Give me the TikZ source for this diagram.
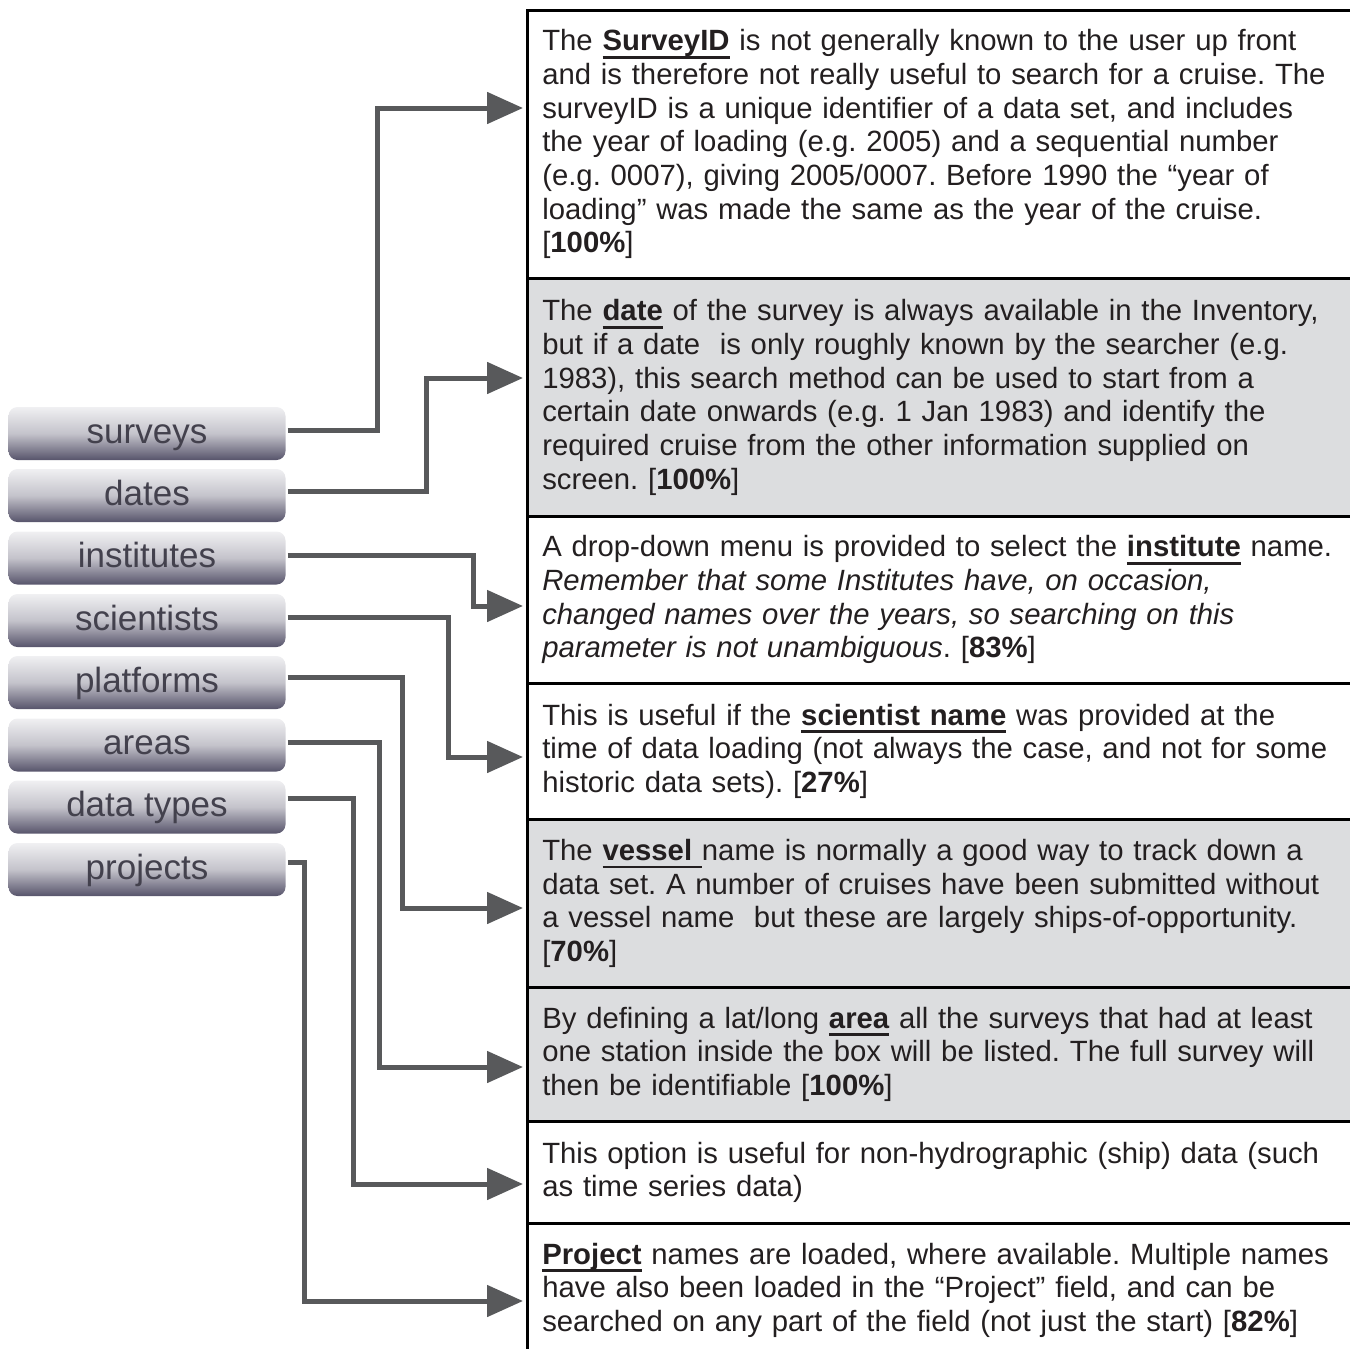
\documentclass[tikz,border=0pt]{standalone}
\usepackage{fontspec}
\setmainfont{Liberation Sans}
\usetikzlibrary{arrows.meta}
\definecolor{connc}{HTML}{58595B}
\definecolor{rowgray}{HTML}{DCDDDF}
\definecolor{textc}{HTML}{231F20}
\definecolor{btop}{HTML}{F0F0F2}
\definecolor{bmid}{HTML}{C4C3CB}
\definecolor{bbot}{HTML}{57546B}
\definecolor{btext}{HTML}{43414D}
\newcommand\ubf[1]{\leavevmode\setbox0=\hbox{\bfseries #1}\rlap{\rule[-8pt]{\wd0}{2.8pt}}\box0\relax}
\newcommand\bodyfont{\fontsize{29.3}{33.7}\selectfont}
\newcommand\btnfont{\fontsize{35}{40}\selectfont}
\frenchspacing
\begin{document}
\begin{tikzpicture}[x=1pt,y=-1pt,
  rowbox/.style={draw=black, line width=2.6pt, anchor=north west, inner xsep=15pt, inner ysep=0pt, text width=840pt, align=left, font=\bodyfont, text=textc},
  button/.style={rounded corners=9pt, minimum width=277pt, minimum height=53pt, top color=btop, bottom color=bbot, middle color=bmid, font=\btnfont, text=btext, inner sep=0pt, text height=26pt, text depth=7pt},
  conn/.style={draw=connc, line width=5pt, -{Triangle[length=36pt,width=31pt]}, shorten >=3pt}]
\useasboundingbox (0,0) rectangle (1350,1349);

% rows
\node[rowbox, minimum height=268pt] (r1) at (526,9) {The \ubf{SurveyID} is not generally known to the user up front\\
and is therefore not really useful to search for a cruise. The\\
surveyID is a unique identifier of a data set, and includes\\
the year of loading (e.g. 2005) and a sequential number\\
(e.g. 0007), giving 2005/0007. Before 1990 the “year of\\
loading” was made the same as the year of the cruise.\\
{[}\textbf{100\%}]};
\node[rowbox, fill=rowgray, minimum height=238pt] (r2) at (526,277) {The \ubf{date} of the survey is always available in the Inventory,\\
but if a date\ \ is only roughly known by the searcher (e.g.\\
1983), this search method can be used to start from a\\
certain date onwards (e.g. 1 Jan 1983) and identify the\\
required cruise from the other information supplied on\\
screen. [\textbf{100\%}]};
\node[rowbox, minimum height=167pt] (r3) at (526,515) {A drop-down menu is provided to select the \ubf{institute} name.\\
\textit{Remember that some Institutes have, on occasion,}\\
\textit{changed names over the years, so searching on this}\\
\textit{parameter is not unambiguous}. [\textbf{83\%}]};
\node[rowbox, minimum height=136pt] (r4) at (526,682) {This is useful if the \ubf{scientist name} was provided at the\\
time of data loading (not always the case, and not for some\\
historic data sets). [\textbf{27\%}]};
\node[rowbox, fill=rowgray, minimum height=168pt] (r5) at (526,818) {The \ubf{vessel\ }name is normally a good way to track down a\\
data set. A number of cruises have been submitted without\\
a vessel name\ \ but these are largely ships-of-opportunity.\\
{[}\textbf{70\%}]};
\node[rowbox, fill=rowgray, minimum height=134pt] (r6) at (526,986) {By defining a lat/long \ubf{area} all the surveys that had at least\\
one station inside the box will be listed. The full survey will\\
then be identifiable [\textbf{100\%}]};
\node[rowbox, minimum height=102pt] (r7) at (526,1120) {This option is useful for non-hydrographic (ship) data (such\\
as time series data)};
\node[rowbox, minimum height=134pt] (r8) at (526,1222) {\ubf{Project} names are loaded, where available. Multiple names\\
have also been loaded in the “Project” field, and can be\\
searched on any part of the field (not just the start) [\textbf{82\%}]};

% buttons
\node[button] (b1) at (147,433.5) {surveys};
\node[button] (b2) at (147,495.5) {dates};
\node[button] (b3) at (147,558) {institutes};
\node[button] (b4) at (147,620.5) {scientists};
\node[button] (b5) at (147,682.5) {platforms};
\node[button] (b6) at (147,745) {areas};
\node[button] (b7) at (147,807) {data types};
\node[button] (b8) at (147,869.5) {projects};

% corners
\coordinate (k1) at (377,108);
\coordinate (k2) at (426,378);
\coordinate (k3) at (473,606);
\coordinate (k4) at (448,757);
\coordinate (k5) at (402,908);
\coordinate (k6) at (379,1067);
\coordinate (k7) at (353,1184);
\coordinate (k8) at (304,1301);

\draw[conn] ([xshift=2pt,yshift=3.5pt]b1.east) -| (k1) -- (k1 -| r1.west);
\draw[conn] ([xshift=2pt,yshift=4.5pt]b2.east) -| (k2) -- (k2 -| r2.west);
\draw[conn] ([xshift=2pt,yshift=2.5pt]b3.east) -| (k3) -- (k3 -| r3.west);
\draw[conn] ([xshift=2pt,yshift=3.5pt]b4.east) -| (k4) -- (k4 -| r4.west);
\draw[conn] ([xshift=2pt,yshift=5.5pt]b5.east) -| (k5) -- (k5 -| r5.west);
\draw[conn] ([xshift=2pt,yshift=3pt]b6.east) -| (k6) -- (k6 -| r6.west);
\draw[conn] ([xshift=2pt,yshift=9pt]b7.east) -| (k7) -- (k7 -| r7.west);
\draw[conn] ([xshift=2pt,yshift=7.5pt]b8.east) -| (k8) -- (k8 -| r8.west);
\end{tikzpicture}
\end{document}
